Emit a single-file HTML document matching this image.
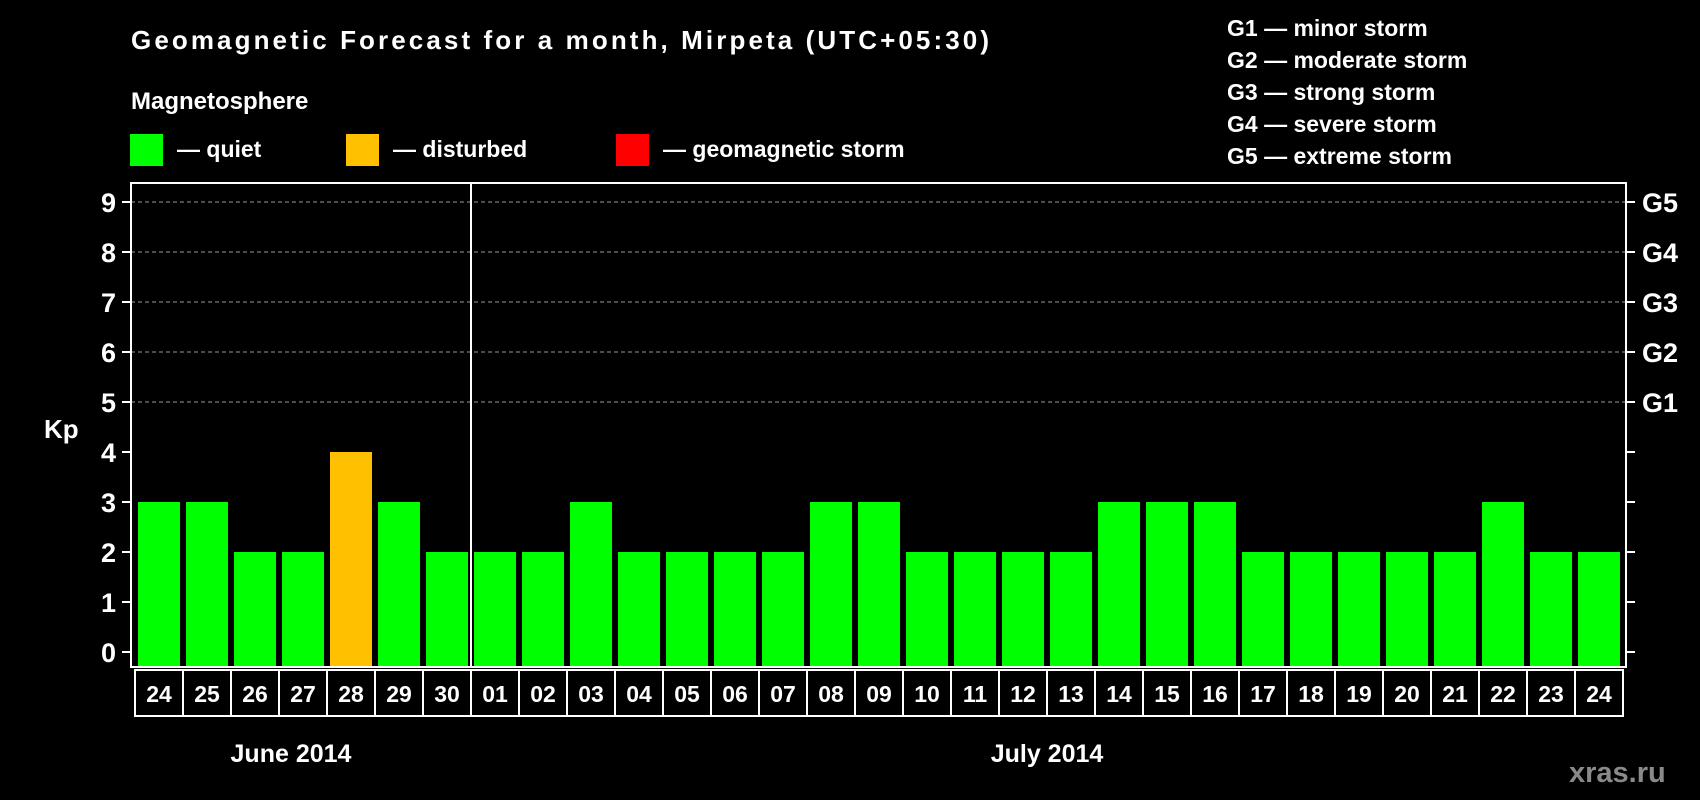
<!DOCTYPE html>
<html><head><meta charset="utf-8"><style>
html,body{margin:0;padding:0;background:#000;}
svg{display:block;font-family:"Liberation Sans",Arial,sans-serif;font-weight:bold;}
</style></head><body>
<svg id="chart" width="1700" height="800" viewBox="0 0 1700 800">
<rect width="1700" height="800" fill="#000"/>
<text x="131" y="49" fill="#fff" font-size="26" textLength="858">Geomagnetic Forecast for a month, Mirpeta (UTC+05:30)</text>
<text x="131" y="109" fill="#fff" font-size="24">Magnetosphere</text>
<rect x="130" y="134" width="33" height="32" fill="#00ff00"/>
<text x="177" y="157" fill="#fff" font-size="23">— quiet</text>
<rect x="346" y="134" width="33" height="32" fill="#ffc000"/>
<text x="393" y="157" fill="#fff" font-size="23">— disturbed</text>
<rect x="616" y="134" width="33" height="32" fill="#ff0000"/>
<text x="663" y="157" fill="#fff" font-size="23">— geomagnetic storm</text>
<g font-size="23" fill="#fff">
<text x="1227" y="36">G1 — minor storm</text>
<text x="1227" y="68">G2 — moderate storm</text>
<text x="1227" y="100">G3 — strong storm</text>
<text x="1227" y="132">G4 — severe storm</text>
<text x="1227" y="164">G5 — extreme storm</text>
</g>
<text x="44" y="438" fill="#fff" font-size="26">Kp</text>
<text x="1569" y="782" fill="#8a8a8a" font-size="29">xras.ru</text>
<g id="plot"></g>
</svg>
<script>
const days = ["24","25","26","27","28","29","30","01","02","03","04","05","06","07","08","09","10","11","12","13","14","15","16","17","18","19","20","21","22","23","24"];
const kpValues = [3,3,2,2,4,3,2,2,2,3,2,2,2,2,3,3,2,2,2,2,3,3,3,2,2,2,2,2,3,2,2];
const yTicks = [0,1,2,3,4,5,6,7,8,9];
const gLabels = ["G1","G2","G3","G4","G5"];
const gLevels = [5,6,7,8,9];
const months = ["June 2014","July 2014"];
const monthStartIdx = [0,7];

const NS="http://www.w3.org/2000/svg";
const plot=document.getElementById('plot');
const plotL=131, plotR=1626, plotT=183, plotB=667;
const slot0=135, slotW=48;
const y=v=>652-(v)*50;
const x=i=>slot0+i*slotW;
function mk(t,a){const e=document.createElementNS(NS,t);for(const k in a)e.setAttribute(k,a[k]);plot.appendChild(e);return e;}

// grid lines
gLevels.forEach(v=>{
  const l=mk('line',{x1:plotL,x2:plotR,y1:y(v),y2:y(v),stroke:'#999','stroke-width':1,'stroke-dasharray':'4,3'});
  
  
});
// bars
kpValues.forEach((v,i)=>{
  const c=v>=5?'#ff0000':(v>=4?'#ffc000':'#00ff00');
  const r=mk('rect',{x:x(i)+3,y:y(v),width:42,height:plotB-y(v),fill:c});
  
  
});
// frame
const fr=mk('rect',{x:plotL,y:plotT,width:plotR-plotL,height:plotB-plotT,fill:'none',stroke:'#fff','stroke-width':2});


const dv=mk('line',{x1:x(7),x2:x(7),y1:plotT,y2:plotB,stroke:'#fff','stroke-width':2});


// y ticks
yTicks.forEach(v=>{
  const t1=mk('line',{x1:plotL-9,x2:plotL,y1:y(v),y2:y(v),stroke:'#fff','stroke-width':2});
  
  
  const t2=mk('line',{x1:plotR,x2:plotR+9,y1:y(v),y2:y(v),stroke:'#fff','stroke-width':2});
  
  
  const tx=mk('text',{x:116,y:y(v)+10,fill:'#fff','font-size':27,'text-anchor':'end'});
  tx.textContent=v;
  
  
});
gLabels.forEach((g,i)=>{
  const tx=mk('text',{x:1642,y:y(gLevels[i])+10,fill:'#fff','font-size':27});
  tx.textContent=g;
  
  
});
// x labels
days.forEach((d,i)=>{
  const b=mk('rect',{x:x(i),y:670,width:slotW,height:46,fill:'none',stroke:'#fff','stroke-width':2});
  
  
  const tx=mk('text',{x:x(i)+slotW/2,y:702,fill:'#fff','font-size':23,'text-anchor':'middle'});
  tx.textContent=d;
  
  
});
months.forEach((m,i)=>{
  const s=monthStartIdx[i], e=i+1<monthStartIdx.length?monthStartIdx[i+1]:days.length;
  const tx=mk('text',{x:(x(s)+x(e))/2-(i===0?12:0),y:762,fill:'#fff','font-size':25,'text-anchor':'middle'});
  tx.textContent=m;
  
  
});
</script>
</body></html>
